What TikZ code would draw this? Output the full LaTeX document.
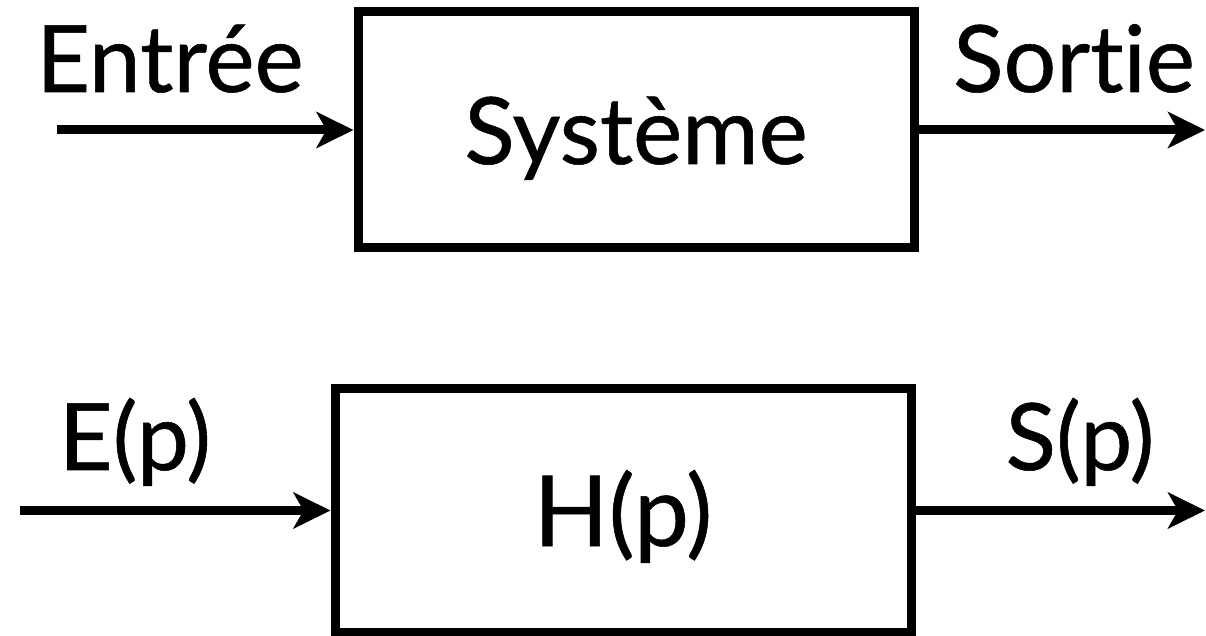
\documentclass[tikz,border=0pt]{standalone}
\usepackage{fontspec}
\setmainfont{Lato}[Ligatures=NoCommon, UprightFeatures={FakeBold=0.6}]
\usetikzlibrary{arrows.meta}
\begin{document}
\begin{tikzpicture}[x=0.5pt,y=-0.5pt,
  block/.style={draw=black, line width=4.5pt, inner sep=0pt,
    text height=34pt, text depth=0pt},
  sig/.style={anchor=base, inner sep=0pt, font=\fontsize{46.5}{50}\selectfont},
  flow/.style={line width=4.5pt, -{Stealth[length=18.5pt,width=18pt,inset=5pt]}}]
\useasboundingbox (0,0) rectangle (1206,636);

% time-domain block
\node[block, minimum width=278pt, minimum height=118pt,
      font=\fontsize{46.5}{50}\selectfont] (sys) at (636,130) {Système};
\coordinate (in1) at (57,130);
\coordinate (out1) at (1205,130);
\draw[flow] (in1) -- (sys.west);
\draw[flow] (sys.east) -- (out1);
\node[sig] (entree) at (170,92) {Entrée};
\node[sig] (sortie) at (1074,92) {Sortie};

% Laplace-domain block
\node[block, minimum width=288pt, minimum height=121.5pt,
      text height=35.5pt, font=\fontsize{49}{52}\selectfont] (tf) at (623,510.5) {H(p)};
\coordinate (in2) at (20,510.5);
\coordinate (out2) at (1205,510.5);
\draw[flow] (in2) -- (tf.west);
\draw[flow] (tf.east) -- (out2);
\node[sig] (ep) at (135,470) {E(p)};
\node[sig] (sp) at (1080,470) {S(p)};
\end{tikzpicture}
\end{document}
